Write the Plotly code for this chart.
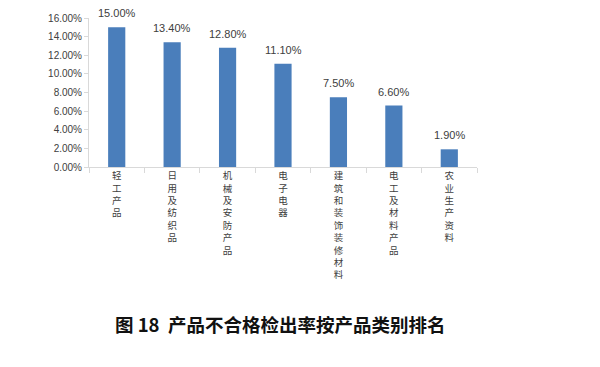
import plotly.graph_objects as go

categories = ["轻工产品", "日用及纺织品", "机械及安防产品", "电子电器",
              "建筑和装饰装修材料", "电工及材料产品", "农业生产资料"]
values = [0.150, 0.134, 0.128, 0.111, 0.075, 0.066, 0.019]
y_ticks = [0, 0.02, 0.04, 0.06, 0.08, 0.10, 0.12, 0.14, 0.16]
caption = "图 18  产品不合格检出率按产品类别排名"

tick_text = ["<br>".join(list(c)) for c in categories]

fig = go.Figure(go.Bar(
    x=categories, y=values,
    marker=dict(color="#4a7ebb", line=dict(width=0)),
))

for c, v in zip(categories, values):
    fig.add_annotation(x=c, y=v, text=f"{v:.2%}", showarrow=False,
                       yanchor="bottom", yshift=6,
                       font=dict(family="Liberation Sans, Arial", size=11, color="#404040"))

fig.update_layout(
    width=600, height=367,
    margin=dict(l=89, r=123, t=15, b=200),
    plot_bgcolor="white", paper_bgcolor="white",
    bargap=0.69,
    showlegend=False,
    title=dict(text=caption, x=0.467, xanchor="center", y=0.114, yanchor="middle",
               yref="container",
               font=dict(family="Noto Sans CJK SC", size=18.5, color="#111111", weight="bold")),
)
fig.update_xaxes(
    tickmode="array", tickvals=categories, ticktext=tick_text,
    tickangle=0, tickson="boundaries", ticks="outside", ticklen=5,
    tickcolor="#d9d9d9", showline=True, linecolor="#d9d9d9", linewidth=1,
    tickfont=dict(family="Noto Sans CJK SC", size=9.5, color="#404040"),
    showgrid=False,
)
fig.update_yaxes(
    range=[0, 0.16], tickvals=y_ticks, tickformat=".2%",
    ticks="outside", ticklen=4, tickcolor="#d9d9d9",
    showline=True, linecolor="#d9d9d9", linewidth=1, showgrid=False, zeroline=False,
    tickfont=dict(family="Liberation Sans, Arial", size=10, color="#404040"),
)

fig.write_html("out.html", config={"displayModeBar": False},
               post_script="document.body.style.margin='0';")
